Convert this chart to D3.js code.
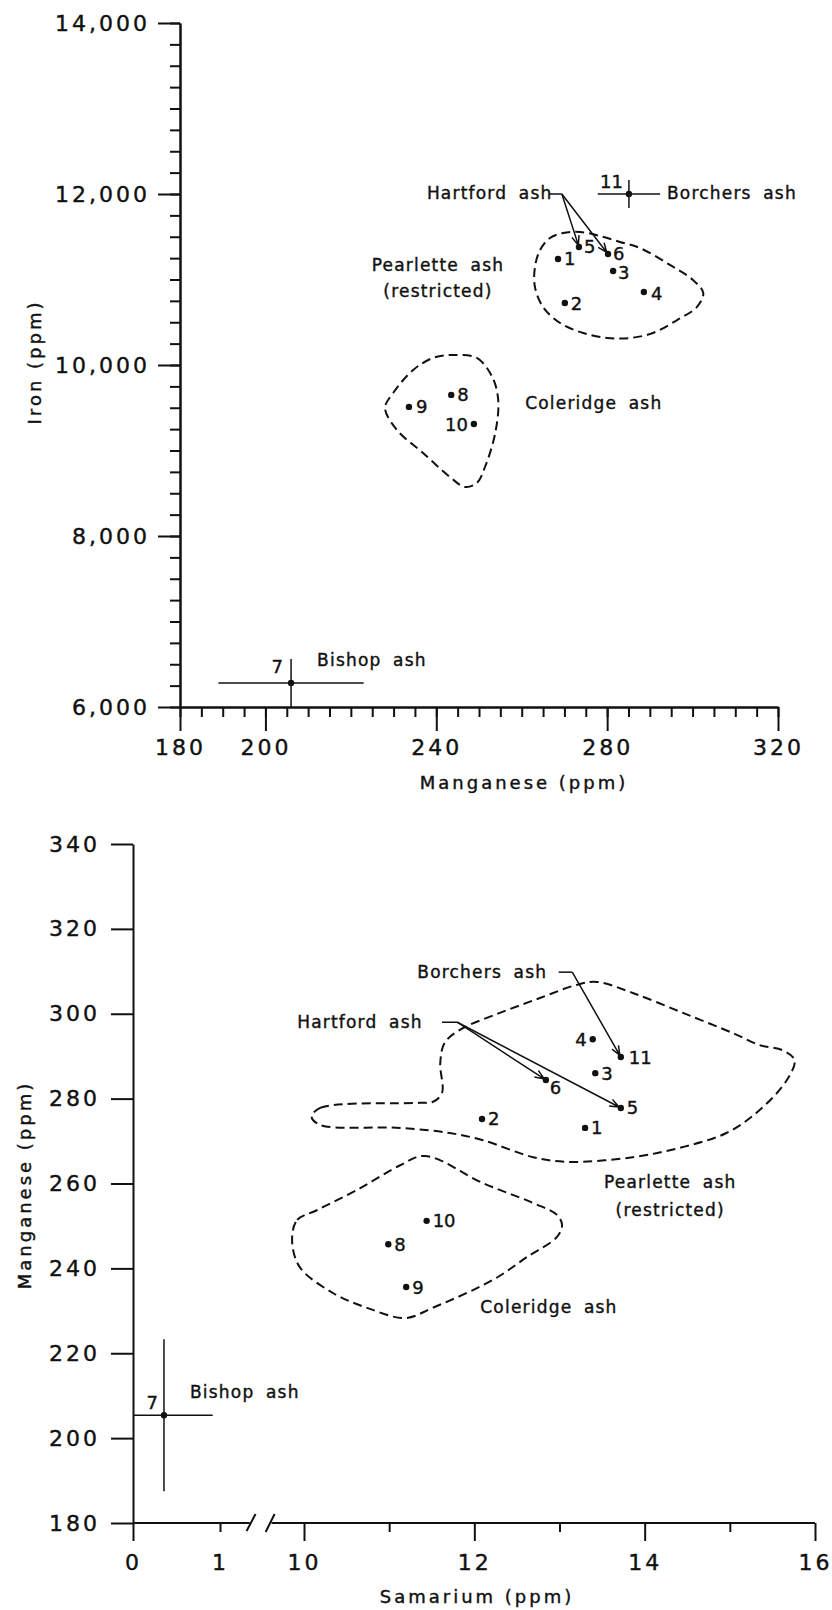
<!DOCTYPE html>
<html>
<head>
<meta charset="utf-8">
<script src="https://cdn.jsdelivr.net/npm/d3@7/dist/d3.min.js"></script>
<style>
  html, body { margin: 0; padding: 0; background: #fff; }
  svg { display: block; }
  text { font-family: "DejaVu Sans", sans-serif; fill: #111; stroke: #111; stroke-width: 0.4px; }
  .tick text { font-size: 22px; letter-spacing: 3px; }
  .axis path, .axis line { stroke: #111; stroke-width: 2; }
</style>
</head>
<body>
<script>
/* jshint browser:true */
var sampleIds = [1, 2, 3, 4, 5, 6, 7, 8, 9, 10, 11];

// upper panel: iron vs manganese
var mnTop    = [268.5, 270.1, 281.4, 288.6, 273.4, 280.2, 206.0, 243.5, 233.6, 248.8, 285.1];
var feTop    = [11240, 10725, 11100, 10854, 11380, 11298, 6281, 9650, 9510, 9310, 12000];
var mnTopErr = [0, 0, 0, 0, 0, 0, 17, 0, 0, 0, 7.3];
var feTopErr = [0, 0, 0, 0, 0, 0, 280, 0, 0, 0, 165];

// lower panel: manganese vs samarium
var smBot    = [13.30, 12.09, 13.42, 13.39, 13.72, 12.84, 0.356, 10.99, 11.20, 11.44, 13.72];
var mnBot    = [273.1, 275.2, 286.0, 294.0, 277.8, 284.4, 205.4, 245.7, 235.6, 251.2, 289.8];
var smBotErr = [0, 0, 0, 0, 0, 0, 0.56, 0, 0, 0, 0];
var mnBotErr = [0, 0, 0, 0, 0, 0, 17.9, 0, 0, 0, 0];

// ticks
var feTicks        = [6000, 8000, 10000, 12000, 14000];
var feMinorTicks   = d3.range(6000, 14001, 250);
var mnTopTicks     = [180, 200, 240, 280, 320];
var mnTopMinor     = d3.range(180, 321, 5);
var mnBotTicks     = [180, 200, 220, 240, 260, 280, 300, 320, 340];
var smLowTicks     = [0, 1];
var smHighTicks    = [10, 12, 14, 16];
var smHighMinor    = [11, 13, 15];

// group outlines [x, y] in data units
var pearletteTop = [[263.1, 11146], [264.3, 11345], [266.6, 11485], [269.7, 11544], [273.7, 11556],
  [278.3, 11509], [283.0, 11439], [287.7, 11368], [294.7, 11170], [300.1, 10994], [302.5, 10842],
  [301.0, 10678], [296.4, 10526], [290.7, 10374], [285.4, 10316], [280.0, 10316], [274.4, 10374],
  [269.0, 10491], [265.0, 10678], [263.1, 10912]];
var coleridgeTop = [[243.9, 10117], [249.5, 10082], [253.1, 9860], [254.5, 9591], [253.8, 9205],
  [251.4, 8807], [249.5, 8620], [246.7, 8573], [243.2, 8690], [236.9, 8971], [230.8, 9240],
  [228.0, 9497], [229.9, 9673], [234.6, 9942], [239.2, 10082]];
var pearletteBot = [[10.09, 275.7], [10.19, 277.8], [11.36, 279.0], [11.51, 279.2], [11.62, 281.3],
  [11.60, 288.4], [11.65, 293.1], [11.83, 296.2], [12.30, 300.2], [12.77, 303.7], [13.20, 306.8],
  [13.44, 307.5], [13.86, 304.9], [14.45, 300.2], [15.04, 295.4], [15.35, 292.6], [15.62, 291.4],
  [15.76, 289.1], [15.67, 284.4], [15.35, 277.3], [14.96, 271.9], [14.45, 268.6], [13.86, 266.2],
  [13.09, 265.1], [12.69, 266.2], [12.10, 270.2], [11.71, 271.9], [11.13, 273.1], [10.19, 273.8]];
var coleridgeBot = [[9.86, 246.7], [9.92, 251.4], [10.15, 253.7], [10.66, 258.9], [11.13, 264.3],
  [11.42, 266.5], [12.10, 260.1], [12.69, 255.4], [12.97, 252.6], [13.03, 250.2], [12.97, 247.4],
  [12.62, 242.7], [12.22, 237.3], [11.51, 230.7], [11.19, 228.3], [10.74, 230.7], [10.34, 234.2],
  [9.95, 240.3]];

// annotation texts [text, x, y, anchor]
var notesTop = [
  ['Hartford ash', 237.8, 11942, 'start'],
  ['Borchers ash', 294.0, 11942, 'start'],
  ['Pearlette ash', 240.4, 11099, 'middle'],
  ['(restricted)', 240.4, 10795, 'middle'],
  ['Coleridge ash', 260.8, 9485, 'start'],
  ['Bishop ash', 212.1, 6480, 'start']
];
var notesBot = [
  ['Borchers ash', 11.33, 308.4, 'start'],
  ['Hartford ash', 9.92, 296.6, 'start'],
  ['Pearlette ash', 14.30, 258.9, 'middle'],
  ['(restricted)', 14.30, 252.3, 'middle'],
  ['Coleridge ash', 12.07, 229.5, 'start'],
  ['Bishop ash', 0.655, 209.4, 'start']
];

// leaders: start, knee, target sample ids
var leadersTop = [{ from: [266.4, 12000], knee: [269.4, 12000], to: [5, 6] }];
var leadersBot = [
  { from: [11.62, 298.0], knee: [11.80, 298.0], to: [6, 5] },
  { from: [12.99, 309.8], knee: [13.15, 309.8], to: [11] }
];

// label placement next to each dot: [dx, dy, anchor]
var labelPosTop = {
  1: [6, 0, 'start'], 2: [6, 1, 'start'], 3: [5, 2, 'start'], 4: [7, 2, 'start'],
  5: [5, 0, 'start'], 6: [5, -1, 'start'], 7: [-8, -16, 'end'], 8: [6, 0, 'start'],
  9: [7, 0, 'start'], 10: [-6, 1, 'end'], 11: [-6, -12, 'end']
};
var labelPosBot = {
  1: [6, 0, 'start'], 2: [6, 0, 'start'], 3: [6, 0, 'start'], 4: [-6, 0, 'end'],
  5: [6, 0, 'start'], 6: [4, 8, 'start'], 7: [-6, -13, 'end'], 8: [6, 0, 'start'],
  9: [6, 0, 'start'], 10: [6, 0, 'start'], 11: [8, 0, 'start']
};

var svg = d3.select('body').append('svg')
    .attr('width', 832)
    .attr('height', 1610)
;

function arrowPath(x0, y0, x1, y1) {
  'use strict';
  var a = Math.atan2(y1 - y0, x1 - x0), len = 10, spread = 0.38;
  return 'M' + x0 + ',' + y0 + 'L' + x1 + ',' + y1 +
    'M' + (x1 - len * Math.cos(a - spread)) + ',' + (y1 - len * Math.sin(a - spread)) +
    'L' + x1 + ',' + y1 +
    'L' + (x1 - len * Math.cos(a + spread)) + ',' + (y1 - len * Math.sin(a + spread));
}

function drawPanel(p) {
  'use strict';
  var g = svg.append('g');
  var x = p.x, y = p.y;

  // outlines
  var outline = d3.line()
      .x(function (d) { return x(d[0]); })
      .y(function (d) { return y(d[1]); })
      .curve(d3.curveCatmullRomClosed.alpha(0.5))
  ;
  g.selectAll('path.group')
      .data(p.outlines)
      .join('path')
      .attr('class', 'group')
      .attr('d', outline)
      .style('fill', 'none')
      .style('stroke', '#111')
      .style('stroke-width', 2)
      .style('stroke-dasharray', '9,5')
  ;

  // error bars
  sampleIds.forEach(function (id, i) {
    var cx = x(p.xs[i]), cy = y(p.ys[i]);
    if (p.xErr[i]) {
      g.append('line')
          .attr('x1', x(Math.max(p.xMin, p.xs[i] - p.xErr[i])))
          .attr('x2', x(p.xs[i] + p.xErr[i]))
          .attr('y1', cy).attr('y2', cy)
          .style('stroke', '#111').style('stroke-width', 1.5)
      ;
    }
    if (p.yErr[i]) {
      g.append('line')
          .attr('x1', cx).attr('x2', cx)
          .attr('y1', y(Math.max(p.yMin, p.ys[i] - p.yErr[i])))
          .attr('y2', y(p.ys[i] + p.yErr[i]))
          .style('stroke', '#111').style('stroke-width', 1.5)
      ;
    }
  });

  // dots and numbers
  g.selectAll('circle.pt')
      .data(sampleIds)
      .join('circle')
      .attr('class', 'pt')
      .attr('cx', function (d, i) { return x(p.xs[i]); })
      .attr('cy', function (d, i) { return y(p.ys[i]); })
      .attr('r', 3.2)
      .style('fill', '#111')
  ;
  g.selectAll('text.num')
      .data(sampleIds)
      .join('text')
      .attr('class', 'num')
      .attr('x', function (d, i) { return x(p.xs[i]) + p.labelPos[d][0]; })
      .attr('y', function (d, i) { return y(p.ys[i]) + p.labelPos[d][1]; })
      .attr('dy', '0.36em')
      .attr('text-anchor', function (d) { return p.labelPos[d][2]; })
      .style('font-size', '18px')
      .text(function (d) { return d; })
  ;

  // leaders
  p.leaders.forEach(function (l) {
    var kx = x(l.knee[0]), ky = y(l.knee[1]);
    g.append('line')
        .attr('x1', x(l.from[0])).attr('y1', y(l.from[1]))
        .attr('x2', kx).attr('y2', ky)
        .style('stroke', '#111').style('stroke-width', 1.5)
    ;
    l.to.forEach(function (id) {
      var i = sampleIds.indexOf(id);
      var tx = x(p.xs[i]), ty = y(p.ys[i]);
      var a = Math.atan2(ty - ky, tx - kx);
      g.append('path')
          .attr('d', arrowPath(kx, ky, tx - 2 * Math.cos(a), ty - 2 * Math.sin(a)))
          .style('fill', 'none')
          .style('stroke', '#111')
          .style('stroke-width', 1.5)
      ;
    });
  });

  // annotation texts
  g.selectAll('text.note')
      .data(p.notes)
      .join('text')
      .attr('class', 'note')
      .attr('x', function (d) { return x(d[1]); })
      .attr('y', function (d) { return y(d[2]); })
      .attr('text-anchor', function (d) { return d[3]; })
      .style('font-size', '17px')
      .style('letter-spacing', '1.2px')
      .style('word-spacing', '5px')
      .text(function (d) { return d[0]; })
  ;
  return g;
}

// ---------- upper panel ----------
var xTop = d3.scaleLinear().domain([180, 320]).range([180, 778]);
var yTop = d3.scaleLinear().domain([6000, 14000]).range([707, 23]);

svg.append('g').attr('class', 'axis')
    .attr('transform', 'translate(' + xTop(180) + ',0)')
    .call(d3.axisLeft(yTop).tickValues(feMinorTicks).tickSize(10).tickSizeOuter(0).tickFormat(''))
;
svg.append('g').attr('class', 'axis')
    .attr('transform', 'translate(' + xTop(180) + ',0)')
    .call(d3.axisLeft(yTop).tickValues(feTicks).tickSize(22).tickSizeOuter(0).tickFormat(''))
;
svg.append('g').attr('class', 'axis')
    .attr('transform', 'translate(' + xTop(180) + ',0)')
    .call(d3.axisLeft(yTop).tickValues(feTicks).tickSize(0).tickPadding(30).tickFormat(d3.format(',')))
    .call(function (s) { s.select('.domain').remove(); })
;
svg.append('g').attr('class', 'axis')
    .attr('transform', 'translate(0,' + yTop(6000) + ')')
    .call(d3.axisBottom(xTop).tickValues(mnTopMinor).tickSize(10).tickSizeOuter(0).tickFormat(''))
;
svg.append('g').attr('class', 'axis')
    .attr('transform', 'translate(0,' + yTop(6000) + ')')
    .call(d3.axisBottom(xTop).tickValues(mnTopTicks).tickSize(24).tickSizeOuter(0).tickFormat(''))
;
svg.append('g').attr('class', 'axis')
    .attr('transform', 'translate(0,' + yTop(6000) + ')')
    .call(d3.axisBottom(xTop).tickValues(mnTopTicks).tickSize(0).tickPadding(32))
    .call(function (s) { s.select('.domain').remove(); })
;
svg.append('text')
    .attr('transform', 'translate(41,362) rotate(-90)')
    .attr('text-anchor', 'middle')
    .style('font-size', '18px').style('letter-spacing', '3px')
    .text('Iron (ppm)')
;
svg.append('text')
    .attr('x', 524).attr('y', 789)
    .attr('text-anchor', 'middle')
    .style('font-size', '18px').style('letter-spacing', '3px')
    .text('Manganese (ppm)')
;

drawPanel({
  x: xTop, y: yTop, xs: mnTop, ys: feTop, xErr: mnTopErr, yErr: feTopErr,
  xMin: 180, yMin: 6000,
  outlines: [pearletteTop, coleridgeTop],
  labelPos: labelPosTop, leaders: leadersTop, notes: notesTop
});

// ---------- lower panel (broken samarium axis) ----------
var xLow  = d3.scaleLinear().domain([0, 1]).range([133, 220]);
var xHigh = d3.scaleLinear().domain([10, 16]).range([304, 815]);
var yBot  = d3.scaleLinear().domain([180, 340]).range([1523, 844]);
function xBot(v) { return v < 5 ? xLow(v) : xHigh(v); }

svg.append('g').attr('class', 'axis')
    .attr('transform', 'translate(' + xLow(0) + ',0)')
    .call(d3.axisLeft(yBot).tickValues(mnBotTicks).tickSize(22).tickSizeOuter(0).tickFormat(''))
;
svg.append('g').attr('class', 'axis')
    .attr('transform', 'translate(' + xLow(0) + ',0)')
    .call(d3.axisLeft(yBot).tickValues(mnBotTicks).tickSize(0).tickPadding(33))
    .call(function (s) { s.select('.domain').remove(); })
;

var yAx = yBot(180);
[[xLow, [0], 18, true], [xLow, [1], 9, true], [xHigh, smHighTicks, 18, true], [xHigh, smHighMinor, 9, false]]
  .forEach(function (t) {
    svg.append('g').attr('class', 'axis')
        .attr('transform', 'translate(0,' + yAx + ')')
        .call(d3.axisBottom(t[0]).tickValues(t[1]).tickSize(t[2]).tickFormat(''))
        .call(function (s) { s.select('.domain').remove(); })
    ;
    if (t[3]) {
      svg.append('g').attr('class', 'axis')
          .attr('transform', 'translate(0,' + yAx + ')')
          .call(d3.axisBottom(t[0]).tickValues(t[1]).tickSize(0).tickPadding(31).tickFormat(d3.format('d')))
          .call(function (s) { s.select('.domain').remove(); })
      ;
    }
  });

// axis line with break marks
svg.append('path')
    .attr('d', 'M' + xLow(0) + ',' + yAx + 'H' + xLow(1.34) +
               'M' + xHigh(9.62) + ',' + yAx + 'H' + xHigh(16) +
               'M' + (xLow(1.34) - 3) + ',' + (yAx + 8) + 'L' + (xLow(1.34) + 6) + ',' + (yAx - 9) +
               'M' + (xHigh(9.62) - 6) + ',' + (yAx + 9) + 'L' + (xHigh(9.62) + 3) + ',' + (yAx - 9))
    .style('fill', 'none').style('stroke', '#111').style('stroke-width', 2)
;

svg.append('text')
    .attr('transform', 'translate(31,1185) rotate(-90)')
    .attr('text-anchor', 'middle')
    .style('font-size', '18px').style('letter-spacing', '3px')
    .text('Manganese (ppm)')
;
svg.append('text')
    .attr('x', 477).attr('y', 1603)
    .attr('text-anchor', 'middle')
    .style('font-size', '18px').style('letter-spacing', '3px')
    .text('Samarium (ppm)')
;

drawPanel({
  x: xBot, y: yBot, xs: smBot, ys: mnBot, xErr: smBotErr, yErr: mnBotErr,
  xMin: 0, yMin: 180,
  outlines: [pearletteBot, coleridgeBot],
  labelPos: labelPosBot, leaders: leadersBot, notes: notesBot
});
</script>
</body>
</html>
